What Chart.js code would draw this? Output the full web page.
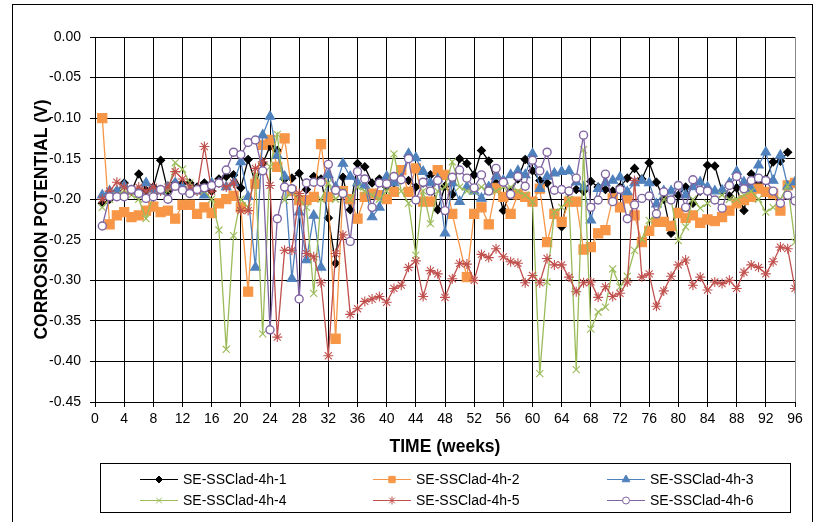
<!DOCTYPE html>
<html><head><meta charset="utf-8">
<script src="https://cdn.jsdelivr.net/npm/chart.js@4/dist/chart.umd.min.js"></script>
<style>html,body{margin:0;padding:0;background:#fff;}#wrap{width:824px;height:522px;position:relative}</style>
</head><body><div id="wrap"><canvas id="c" width="824" height="522"></canvas></div>
<script>
const weeks=[1,2,3,4,5,6,7,8,9,10,11,12,13,14,15,16,17,18,19,20,21,22,23,24,25,26,27,28,29,30,31,32,33,34,35,36,37,38,39,40,41,42,43,44,45,46,47,48,49,50,51,52,53,54,55,56,57,58,59,60,61,62,63,64,65,66,67,68,69,70,71,72,73,74,75,76,77,78,79,80,81,82,83,84,85,86,87,88,89,90,91,92,93,94,95,96];
const seriesNames=['SE-SSClad-4h-1','SE-SSClad-4h-2','SE-SSClad-4h-3','SE-SSClad-4h-4','SE-SSClad-4h-5','SE-SSClad-4h-6'];
const s1=[-0.205,-0.200,-0.190,-0.180,-0.190,-0.169,-0.189,-0.185,-0.152,-0.190,
 -0.180,-0.180,-0.180,-0.185,-0.180,-0.190,-0.175,-0.172,-0.170,-0.186,
 -0.151,-0.180,-0.156,-0.135,-0.140,-0.175,-0.174,-0.168,-0.188,-0.172,
 -0.175,-0.223,-0.279,-0.173,-0.213,-0.156,-0.160,-0.180,-0.175,-0.185,
 -0.180,-0.175,-0.177,-0.185,-0.180,-0.170,-0.213,-0.184,-0.194,-0.150,
 -0.156,-0.170,-0.140,-0.153,-0.180,-0.214,-0.190,-0.175,-0.151,-0.165,
 -0.177,-0.180,-0.218,-0.234,-0.190,-0.188,-0.190,-0.178,-0.185,-0.188,
 -0.190,-0.185,-0.174,-0.162,-0.175,-0.155,-0.179,-0.200,-0.242,-0.195,
 -0.185,-0.205,-0.190,-0.158,-0.159,-0.190,-0.196,-0.186,-0.214,-0.169,
 -0.180,-0.175,-0.154,-0.153,-0.142,null];
const s2=[-0.100,-0.231,-0.220,-0.216,-0.222,-0.220,-0.214,-0.209,-0.216,-0.214,
 -0.224,-0.207,-0.207,-0.218,-0.210,-0.217,-0.205,-0.200,-0.196,-0.210,
 -0.314,-0.181,-0.133,-0.127,-0.160,-0.125,-0.190,-0.201,-0.201,-0.197,
 -0.132,-0.197,-0.372,-0.190,-0.200,-0.224,-0.197,-0.193,-0.195,-0.200,
 -0.191,-0.164,-0.191,-0.162,-0.203,-0.203,-0.164,-0.170,-0.218,null,
 -0.296,-0.218,-0.210,-0.231,-0.186,-0.197,-0.218,-0.194,-0.197,-0.203,
 -0.187,-0.253,-0.218,-0.228,-0.203,-0.203,-0.262,-0.259,-0.242,-0.238,
 -0.199,-0.210,-0.199,-0.220,-0.253,-0.239,-0.228,-0.228,-0.233,-0.217,
 -0.223,-0.220,-0.229,-0.225,-0.227,-0.222,-0.214,-0.205,-0.201,-0.197,
 -0.187,-0.191,-0.193,-0.214,-0.183,-0.180];
const s3=[-0.195,-0.190,-0.190,-0.183,-0.190,-0.190,-0.180,-0.188,-0.190,-0.185,
 -0.180,-0.185,-0.190,-0.190,-0.195,-0.180,-0.180,-0.185,-0.180,-0.154,
 -0.197,-0.284,-0.121,-0.098,-0.146,-0.172,-0.298,-0.216,-0.275,-0.220,
 -0.284,-0.170,-0.185,-0.156,-0.172,-0.180,-0.183,-0.222,-0.210,-0.172,
 -0.180,-0.175,-0.144,-0.149,-0.166,-0.180,-0.175,-0.242,-0.180,-0.203,
 -0.185,-0.190,-0.199,-0.185,-0.172,-0.177,-0.170,-0.165,-0.170,-0.144,
 -0.187,-0.172,-0.168,-0.166,-0.165,-0.179,-0.185,-0.226,-0.187,-0.180,
 -0.177,-0.173,-0.191,-0.180,-0.177,-0.180,-0.206,-0.190,-0.190,-0.184,
 -0.195,-0.185,-0.179,-0.185,-0.190,-0.189,-0.180,-0.166,-0.179,-0.187,
 -0.158,-0.142,-0.177,-0.146,-0.184,-0.179];
const s4=[-0.210,-0.200,-0.195,-0.190,-0.195,-0.200,-0.224,-0.195,-0.190,-0.190,
 -0.155,-0.163,-0.180,-0.190,-0.190,-0.200,-0.238,-0.385,-0.245,-0.200,
 -0.210,-0.170,-0.366,-0.160,-0.120,-0.201,-0.190,-0.200,-0.210,-0.316,
 -0.200,-0.180,-0.200,-0.190,-0.200,-0.185,-0.190,-0.195,-0.200,-0.190,
 -0.144,-0.190,-0.205,-0.269,-0.190,-0.230,-0.190,-0.185,-0.154,-0.185,
 -0.190,-0.190,-0.185,-0.190,-0.190,-0.185,-0.185,-0.190,-0.195,-0.203,
 -0.415,-0.302,-0.216,-0.210,-0.200,-0.410,-0.139,-0.360,-0.339,-0.333,
 -0.286,-0.308,-0.295,-0.263,-0.249,-0.226,-0.220,-0.200,-0.200,-0.251,
 -0.234,-0.200,-0.211,-0.205,-0.200,-0.195,-0.200,-0.200,-0.195,-0.190,
 -0.200,-0.216,-0.210,-0.200,-0.183,-0.253];
const s5=[-0.200,-0.190,-0.179,-0.185,-0.190,-0.185,-0.190,-0.185,-0.190,-0.185,
 -0.166,-0.175,-0.185,-0.190,-0.135,-0.190,-0.180,-0.185,-0.180,-0.214,
 -0.214,-0.162,-0.154,-0.183,-0.370,-0.263,-0.263,-0.193,-0.267,-0.271,
 -0.303,-0.393,-0.267,-0.244,-0.342,-0.335,-0.326,-0.323,-0.320,-0.327,
 -0.310,-0.306,-0.284,-0.276,-0.320,-0.288,-0.292,-0.321,-0.298,-0.279,
 -0.280,-0.300,-0.268,-0.272,-0.261,-0.271,-0.277,-0.279,-0.303,-0.294,
 -0.303,-0.273,-0.281,-0.281,-0.296,-0.314,-0.303,-0.302,-0.321,-0.308,
 -0.320,-0.316,-0.302,-0.177,-0.296,-0.292,-0.332,-0.313,-0.295,-0.281,
 -0.275,-0.306,-0.296,-0.312,-0.302,-0.304,-0.300,-0.310,-0.290,-0.281,
 -0.284,-0.292,-0.277,-0.259,-0.261,-0.310];
const s6=[-0.233,-0.197,-0.197,-0.197,-0.188,-0.193,-0.199,-0.197,-0.188,-0.200,
 -0.184,-0.189,-0.193,-0.188,-0.186,-0.183,-0.180,-0.164,-0.142,-0.145,
 -0.130,-0.127,-0.165,-0.361,-0.224,-0.185,-0.187,-0.323,-0.180,-0.179,
 -0.179,-0.157,-0.189,-0.193,-0.252,-0.166,-0.175,-0.210,-0.180,-0.181,
 -0.172,-0.176,-0.150,-0.201,-0.179,-0.190,-0.177,-0.214,-0.173,-0.164,
 -0.174,-0.186,-0.170,-0.190,-0.162,-0.179,-0.194,-0.172,-0.184,-0.152,
 -0.165,-0.142,-0.189,-0.188,-0.190,-0.174,-0.121,-0.210,-0.201,-0.169,
 -0.203,-0.188,-0.224,-0.207,-0.199,-0.196,-0.218,-0.191,-0.201,-0.183,
 -0.210,-0.176,-0.189,-0.190,-0.201,-0.211,-0.183,-0.172,-0.187,-0.177,
 -0.174,-0.177,-0.190,-0.205,-0.195,-0.202];
const seriesValues=[s1,s2,s3,s4,s5,s6];
const xTitle='TIME (weeks)';
const yTitle='CORROSION POTENTIAL (V)';

const colors=['#000000','#F79646','#4F81BD','#9BBB59','#C0504D','#8064A2'];
const pStyles=['rectRot','rect','triangle','crossRot','star','circle'];
const pRadius=[4,6.5,5.5,5,5,4];
const pFill=['#000000','#F79646','#4F81BD','#9BBB59','#C0504D','#FFFFFF'];
const legendR=[3.5,4.5,4.5,4,4,3.5];

const datasets=seriesValues.map((vals,i)=>({
  label:seriesNames[i],
  data:weeks.map((w,j)=>({x:w,y:vals[j]})),
  borderColor:colors[i],
  backgroundColor:pFill[i],
  borderWidth:1.3,
  pointStyle:pStyles[i],
  pointRadius:pRadius[i],
  pointHoverRadius:pRadius[i],
  pointBackgroundColor:pFill[i],
  pointBorderColor:colors[i],
  pointBorderWidth:i===5?1.4:1.1,
  tension:0,
  spanGaps:true,
  order:6-i,
  legendR:legendR[i]
}));

const FONT='"Liberation Sans", Arial, sans-serif';

const framePlugin={
  id:'frame',
  beforeDraw(chart){
    const ctx=chart.ctx;
    ctx.save();
    ctx.fillStyle='#fff';
    ctx.fillRect(0,0,chart.width,chart.height);
    ctx.strokeStyle='#000';ctx.lineWidth=1;
    ctx.strokeRect(12.5,4.5,800,540);
    ctx.restore();
  },
  afterDraw(chart){
    const ctx=chart.ctx;
    ctx.save();
    ctx.strokeStyle='#000';ctx.lineWidth=1;
    ctx.strokeRect(100.5,463.5,690,49);
    const cols=[140,373,607], rows=[479,500];
    chart.data.datasets.forEach((ds,i)=>{
      const x=cols[i%3], y=rows[Math.floor(i/3)];
      ctx.strokeStyle=ds.borderColor;ctx.lineWidth=1.2;
      ctx.beginPath();ctx.moveTo(x,y+0.5);ctx.lineTo(x+38,y+0.5);ctx.stroke();
      ctx.fillStyle=ds.pointBackgroundColor;ctx.strokeStyle=ds.pointBorderColor;ctx.lineWidth=1;
      Chart.helpers.drawPoint(ctx,{pointStyle:ds.pointStyle,radius:ds.legendR,borderWidth:1,rotation:0},x+19,y+0.5);
      ctx.fillStyle='#000';ctx.font='14px '+FONT;ctx.textBaseline='middle';ctx.textAlign='left';
      ctx.fillText(ds.label,x+43,y+1);
    });
    ctx.restore();
  }
};

new Chart(document.getElementById('c'),{
  type:'line',
  data:{datasets},
  options:{
    responsive:false,animation:false,
    layout:{padding:{left:0,right:29,top:37,bottom:0}},
    plugins:{legend:{display:false},tooltip:{enabled:false}},
    scales:{
      x:{type:'linear',min:0,max:96,
        afterFit(s){s.height=120;},
        ticks:{stepSize:4,autoSkip:false,maxRotation:0,color:'#000',padding:4,font:{family:FONT,size:14}},
        grid:{color:(c)=>c.tick&&c.tick.value===96?'#888':'#000',lineWidth:1,tickLength:5,tickColor:'#000'},
        border:{color:'#000',width:1},
        title:{display:true,text:xTitle,color:'#000',font:{family:FONT,size:17.5,weight:'bold'},padding:{top:0,bottom:64}}
      },
      y:{type:'linear',min:-0.45,max:0,
        afterFit(s){s.width=95;},
        ticks:{stepSize:0.05,color:'#000',padding:9,font:{family:FONT,size:14},callback:(v)=>Number(v).toFixed(2)},
        grid:{color:'#000',lineWidth:1,tickLength:5,tickColor:'#000'},
        border:{color:'#000',width:1},
        title:{display:true,text:yTitle,color:'#000',font:{family:FONT,size:17.5,weight:'bold'},padding:{top:32,bottom:0}}
      }
    }
  },
  plugins:[framePlugin]
});
</script></body></html>
